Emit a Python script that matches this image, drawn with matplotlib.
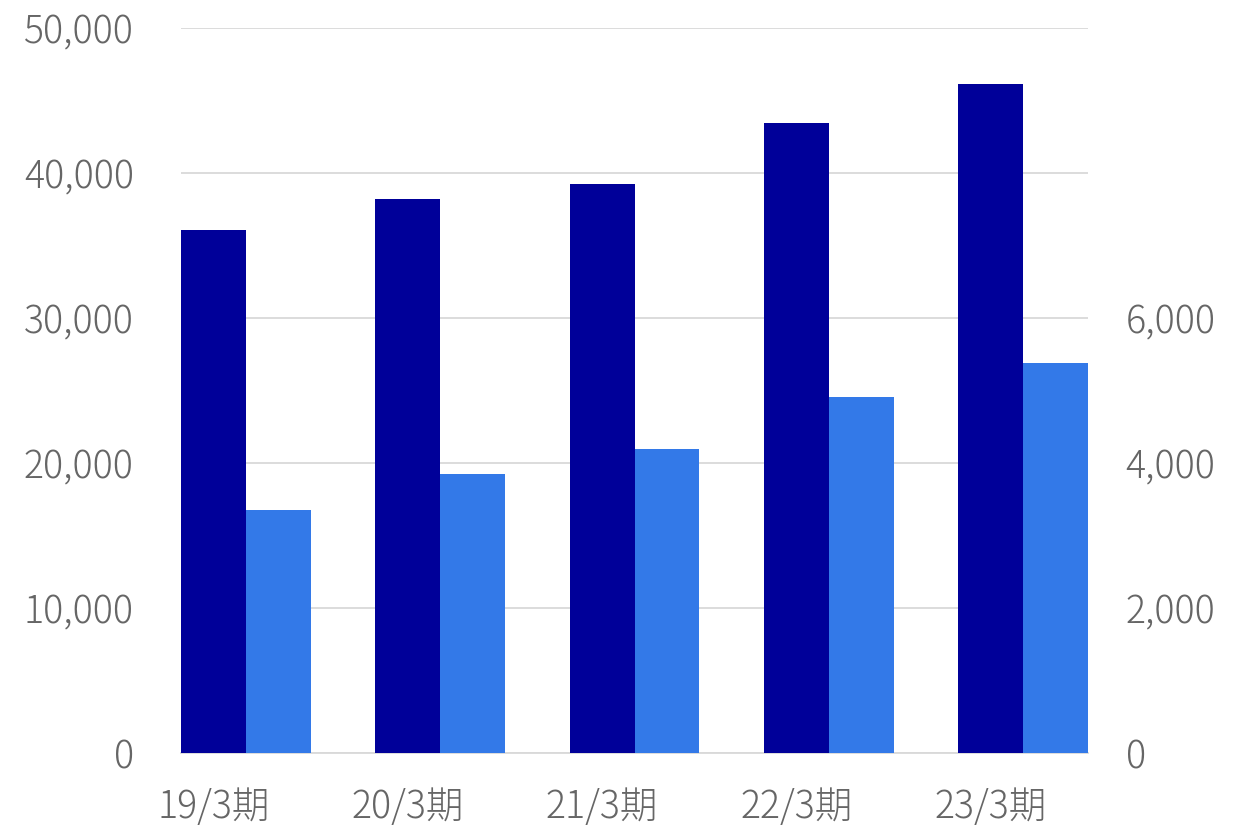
import numpy as np
import matplotlib.pyplot as plt
from matplotlib.ticker import FuncFormatter

plt.rcParams['font.family'] = ['Noto Sans CJK JP', 'DejaVu Sans']
plt.rcParams['font.weight'] = 'light'

# データ
periods = ['19/3期', '20/3期', '21/3期', '22/3期', '23/3期']
left_values = [36100, 38200, 39250, 43450, 46150]   # 左軸
right_values = [3350, 3850, 4190, 4910, 5380]       # 右軸

dark = '#000099'
light = '#3379E8'
text_gray = '#666666'
grid_gray = '#D9D9D9'

fig = plt.figure(figsize=(12.47, 8.25), dpi=100)
ax = fig.add_axes([0.1452, 0.0873, 0.7274, 0.8788])
ax2 = ax.twinx()

x = np.arange(len(periods))
w = 0.334

ax.bar(x - w / 2, left_values, width=w, color=dark, zorder=3)
ax2.bar(x + w / 2, right_values, width=w, color=light, zorder=3)

ax.set_xlim(-w, len(periods) - 1 + w)
ax.set_ylim(0, 50000)
ax2.set_ylim(0, 10000)

ax.set_yticks(range(0, 50001, 10000))
ax2.set_yticks(range(0, 6001, 2000))
fmt = FuncFormatter(lambda v, p: f'{int(v):,}')
ax.yaxis.set_major_formatter(fmt)
ax2.yaxis.set_major_formatter(fmt)

# ラベルは濃色バーの中心に
ax.set_xticks(x - w / 2)
ax.set_xticklabels(periods)

ax.grid(axis='y', color=grid_gray, linewidth=1.3, zorder=0)
ax.set_axisbelow(True)

for a in (ax, ax2):
    for s in a.spines.values():
        s.set_visible(False)
    a.tick_params(length=0, labelsize=27, colors=text_gray)
ax.spines['bottom'].set_visible(True)
ax.spines['bottom'].set_color(grid_gray)
ax.spines['bottom'].set_linewidth(1.3)

ax.tick_params(axis='y', pad=34)
ax2.tick_params(axis='y', pad=27)
ax.tick_params(axis='x', pad=25)

fig.savefig('out.png', dpi=100, facecolor='white')
